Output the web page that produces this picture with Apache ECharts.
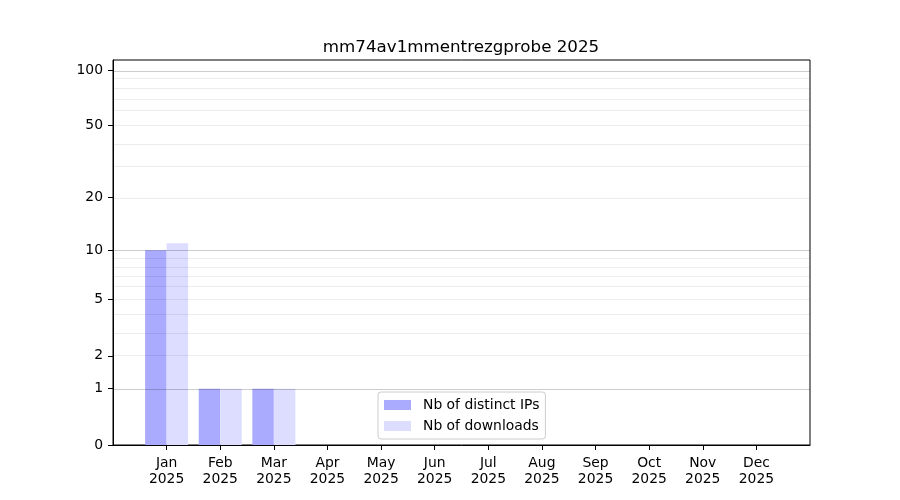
<!DOCTYPE html>
<html>
<head>
<meta charset="utf-8">
<script src="https://cdn.jsdelivr.net/npm/echarts@6/dist/echarts.min.js"></script>
<style>
html,body{margin:0;padding:0;background:#fff;}
#chart{width:900px;height:500px;}
</style>
</head>
<body>
<div id="chart"></div>
<script>
const chartTitle = 'mm74av1mmentrezgprobe 2025';
const months = ['Jan','Feb','Mar','Apr','May','Jun','Jul','Aug','Sep','Oct','Nov','Dec'];
const year = '2025';
const ipsValues = [10, 1, 1, 0, 0, 0, 0, 0, 0, 0, 0, 0];
const downloadValues = [11, 1, 1, 0, 0, 0, 0, 0, 0, 0, 0, 0];
const yTickValues = [0, 1, 2, 5, 10, 20, 50, 100];
const majorGridValues = [1, 10, 100];
const minorGridValues = [2, 3, 4, 5, 6, 7, 8, 9, 20, 30, 40, 50, 60, 70, 80, 90];
const yTopValue = 113.5;

const FONT = 'DejaVu Sans';
const tf = v => Math.log10(1 + v);

const xCategories = [''].concat(months.map(m => m + '\n' + year), ['']);
const pad = arr => [null].concat(arr.map(tf), [null]);

const gridLines = majorGridValues.map(v => ({
  yAxis: tf(v), lineStyle: {color: 'rgba(0,0,0,0.2)', width: 1, type: 'solid'}
})).concat(minorGridValues.map(v => ({
  yAxis: tf(v), lineStyle: {color: 'rgba(0,0,0,0.07)', width: 1, type: 'solid'}
})));

const chart = echarts.init(document.getElementById('chart'), null, {renderer: 'canvas'});
chart.setOption({
  animation: false,
  backgroundColor: '#ffffff',
  title: {
    text: chartTitle,
    left: 456,
    textAlign: 'center',
    top: 34,
    textStyle: {fontFamily: FONT, fontSize: 16.7, fontWeight: 'normal', color: '#000'}
  },
  grid: {
    left: 113, right: 90, top: 60, bottom: 55,
    show: true, borderColor: '#000', borderWidth: 1, backgroundColor: 'transparent'
  },
  legend: {
    orient: 'vertical',
    left: 378,
    top: 392,
    padding: [6, 6, 6, 6],
    itemGap: 7,
    itemWidth: 27,
    itemHeight: 10,
    borderColor: '#cccccc',
    borderWidth: 1,
    borderRadius: 3,
    backgroundColor: 'rgba(255,255,255,0.8)',
    icon: 'rect',
    textStyle: {fontFamily: FONT, fontSize: 13.9, color: '#000', padding: [0, 0, 0, 7]},
    data: ['Nb of distinct IPs', 'Nb of downloads']
  },
  xAxis: {
    type: 'category',
    data: xCategories,
    boundaryGap: false,
    axisLine: {show: true, lineStyle: {color: '#000', width: 1}},
    axisTick: {
      show: true, length: 5, lineStyle: {color: '#000'},
      interval: (i) => i > 0 && i < xCategories.length - 1
    },
    axisLabel: {
      interval: 0, margin: 10, color: '#000', fontFamily: FONT, fontSize: 13.9, lineHeight: 16
    },
    splitLine: {show: false}
  },
  yAxis: {
    type: 'value',
    min: 0,
    max: tf(yTopValue),
    axisLine: {show: true, lineStyle: {color: '#000', width: 1}},
    axisTick: {show: true, length: 5, lineStyle: {color: '#000'}, customValues: yTickValues.map(tf)},
    axisLabel: {
      customValues: yTickValues.map(tf),
      margin: 10, color: '#000', fontFamily: FONT, fontSize: 13.9,
      formatter: (val) => {
        let best = yTickValues[0];
        yTickValues.forEach(t => { if (Math.abs(tf(t) - val) < Math.abs(tf(best) - val)) best = t; });
        return String(best);
      }
    },
    splitLine: {show: false}
  },
  series: [
    {
      name: 'Nb of distinct IPs',
      type: 'bar',
      data: pad(ipsValues),
      barWidth: 21.5,
      barGap: '0%',
      itemStyle: {color: '#aaaaff'},
      markLine: {
        silent: true, symbol: 'none', z: 10,
        label: {show: false},
        emphasis: {disabled: true},
        data: gridLines
      }
    },
    {
      name: 'Nb of downloads',
      type: 'bar',
      data: pad(downloadValues),
      barWidth: 21.5,
      barGap: '0%',
      itemStyle: {color: '#ddddff'}
    }
  ]
});
</script>
</body>
</html>
